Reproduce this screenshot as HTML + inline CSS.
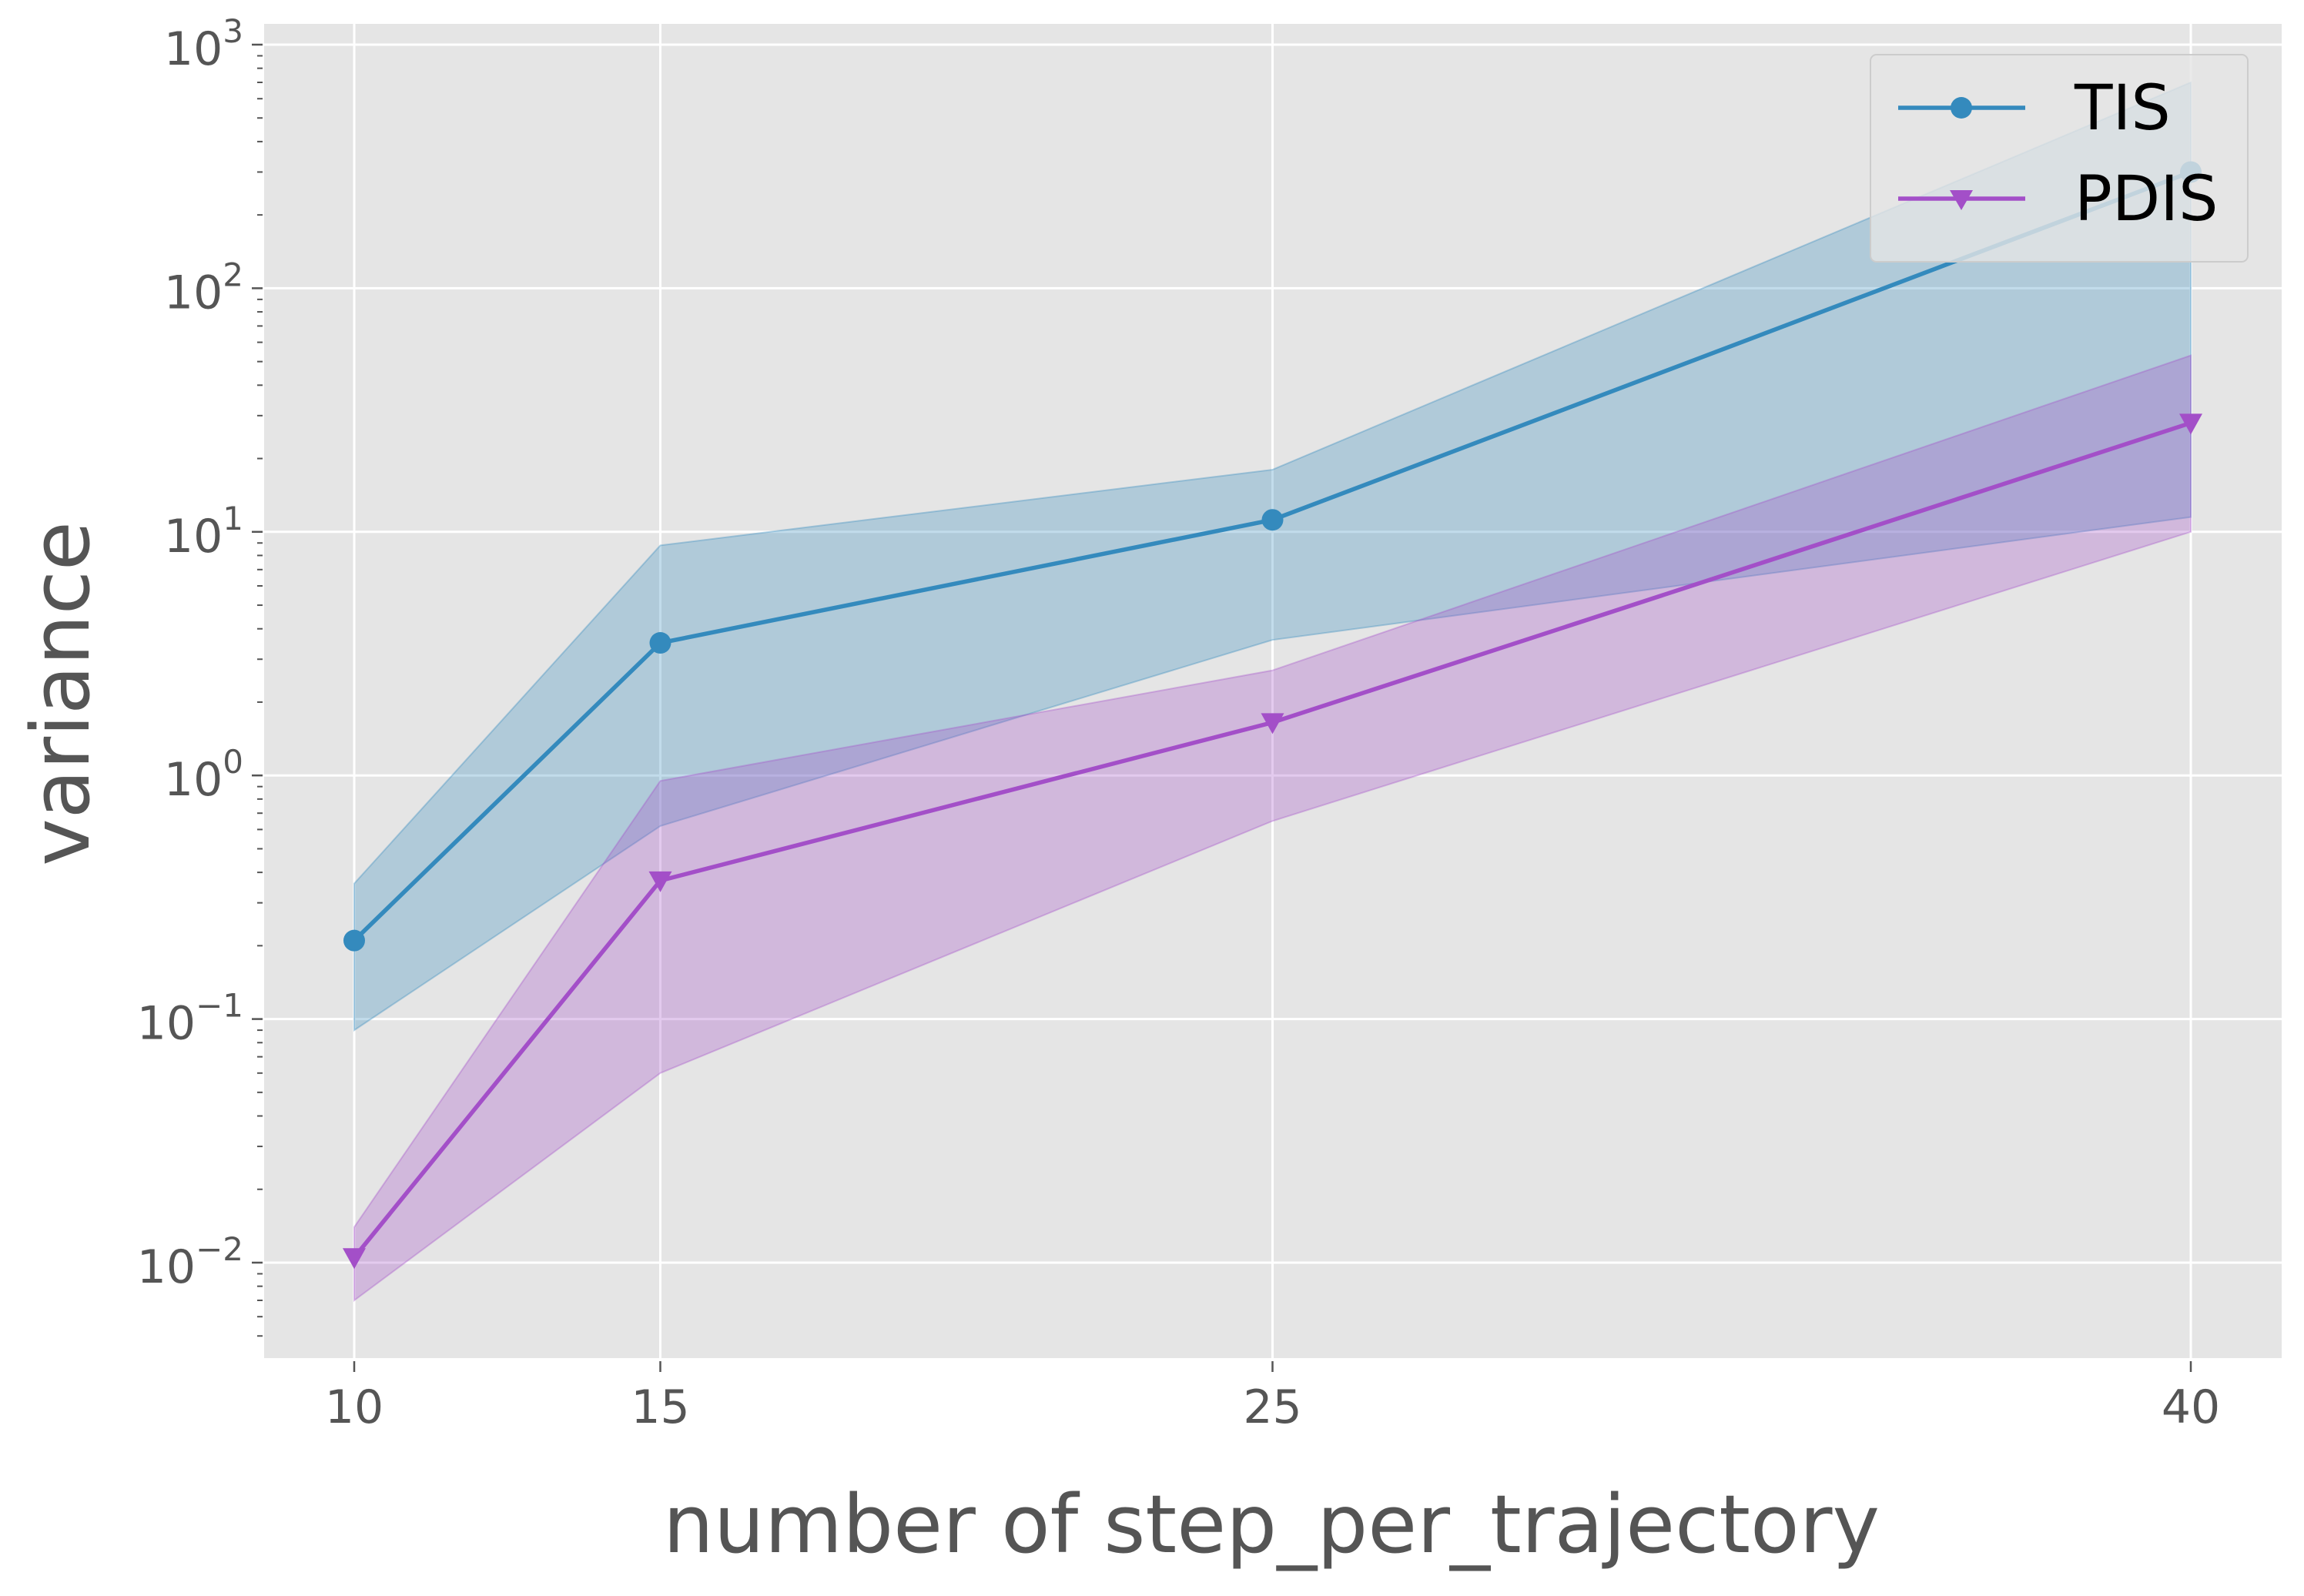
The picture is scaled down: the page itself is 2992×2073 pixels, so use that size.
<!DOCTYPE html>
<html><head><meta charset="utf-8"><style>
html,body{margin:0;padding:0;background:#fff;}
svg{display:block;font-family:"DejaVu Sans","Liberation Sans",sans-serif;}
</style></head><body>
<svg id="chart" width="2992" height="2073" viewBox="0 0 2992 2073" xmlns="http://www.w3.org/2000/svg">
<rect x="343" y="31" width="2620" height="1733" fill="#e5e5e5"/>
<g id="grid"></g><g id="bands"></g><g id="lines"></g><g id="axes"></g>
<text x="1651" y="2016" font-size="104" fill="#555" text-anchor="middle">number of step_per_trajectory</text>
<text transform="translate(115,901) rotate(-90)" font-size="104" fill="#555" text-anchor="middle">variance</text>
<g>
<rect x="2429" y="71" width="490" height="269" rx="8" fill="#e5e5e5" fill-opacity="0.8" stroke="#cccccc" stroke-width="2"/>
<line x1="2465" y1="140" x2="2630" y2="140" stroke="#348ABD" stroke-width="5.5"/>
<circle cx="2547" cy="140" r="14" fill="#348ABD"/>
<text x="2694" y="168" font-size="81" fill="#000">TIS</text>
<line x1="2465" y1="258" x2="2630" y2="258" stroke="#a34fc8" stroke-width="5.5"/>
<path d="M2532,247 L2562,247 L2547,273 Z" fill="#a34fc8"/>
<text x="2694" y="286" font-size="81" fill="#000">PDIS</text>
</g>
</svg>
<script>
const steps=[10,15,25,40];
const tisMean=[0.21,3.5,11.2,300];
const tisUpper=[0.36,8.8,18,700];
const tisLower=[0.09,0.62,3.6,11.5];
const pdisMean=[0.0105,0.37,1.65,28];
const pdisUpper=[0.014,0.95,2.7,53];
const pdisLower=[0.007,0.06,0.65,10];
const xTicks=[10,15,25,40];
const yTickExp=[-2,-1,0,1,2,3];

const NS="http://www.w3.org/2000/svg";
function X(v){return 460+(v-10)*(2845-460)/30;}
function Y(v){return 58+(3-Math.log10(v))*(1640-58)/5;}
function mk(tag,attrs,parent){const e=document.createElementNS(NS,tag);for(const k in attrs)e.setAttribute(k,attrs[k]);document.getElementById(parent).appendChild(e);return e;}

xTicks.forEach(t=>{
  const g=mk('line',{x1:X(t),x2:X(t),y1:31,y2:1764,stroke:'#fff','stroke-width':3},'grid');
  
  
  mk('line',{x1:X(t),x2:X(t),y1:1768,y2:1782,stroke:'#555','stroke-width':2.5},'axes');
  const l=mk('text',{x:X(t),y:1848,'font-size':60,fill:'#555','text-anchor':'middle'},'axes');
  l.textContent=t;
  
  
});
yTickExp.forEach(e=>{
  const y=Y(Math.pow(10,e));
  const g=mk('line',{x1:343,x2:2963,y1:y,y2:y,stroke:'#fff','stroke-width':3},'grid');
  
  
  mk('line',{x1:327,x2:341,y1:y,y2:y,stroke:'#555','stroke-width':2.5},'axes');
  const l=mk('text',{x:316,y:y+26,'font-size':60,fill:'#555','text-anchor':'end'},'axes');
  
  
  const b=document.createElementNS(NS,'tspan');b.textContent='10';l.appendChild(b);
  const s=document.createElementNS(NS,'tspan');s.setAttribute('dy','-29');s.setAttribute('font-size','42');s.textContent=e<0?'\u2212'+(-e):e;l.appendChild(s);
});
for(let e=-3;e<3;e++){for(let m=2;m<10;m++){const v=m*Math.pow(10,e);const y=Y(v);if(y<31||y>1764)continue;
  mk('line',{x1:334,x2:341,y1:y,y2:y,stroke:'#555','stroke-width':2},'axes');}}

function band(up,lo,color,name){
  let d='M'+steps.map((s,i)=>X(s)+','+Y(up[i])).join(' L');
  for(let i=steps.length-1;i>=0;i--)d+=' L'+X(steps[i])+','+Y(lo[i]);
  const p=mk('path',{d:d+'Z',fill:color,'fill-opacity':0.3,stroke:color,'stroke-opacity':0.35,'stroke-width':2},'bands');
  
  
}
band(tisUpper,tisLower,'#348ABD','tis-band');
band(pdisUpper,pdisLower,'#a34fc8','pdis-band');

function series(vals,color,name,marker){
  const pl=mk('polyline',{points:steps.map((s,i)=>X(s)+','+Y(vals[i])).join(' '),fill:'none',stroke:color,'stroke-width':5.5},'lines');
  
  
  steps.forEach((s,i)=>{const x=X(s),y=Y(vals[i]);let m;
    if(marker==='o')m=mk('circle',{cx:x,cy:y,r:14,fill:color},'lines');
    else m=mk('path',{d:`M${x-15},${y-12} L${x+15},${y-12} L${x},${y+15} Z`,fill:color},'lines');
    
    
  });
}
series(tisMean,'#348ABD','tis','o');
series(pdisMean,'#a34fc8','pdis','v');
</script>
</body></html>
